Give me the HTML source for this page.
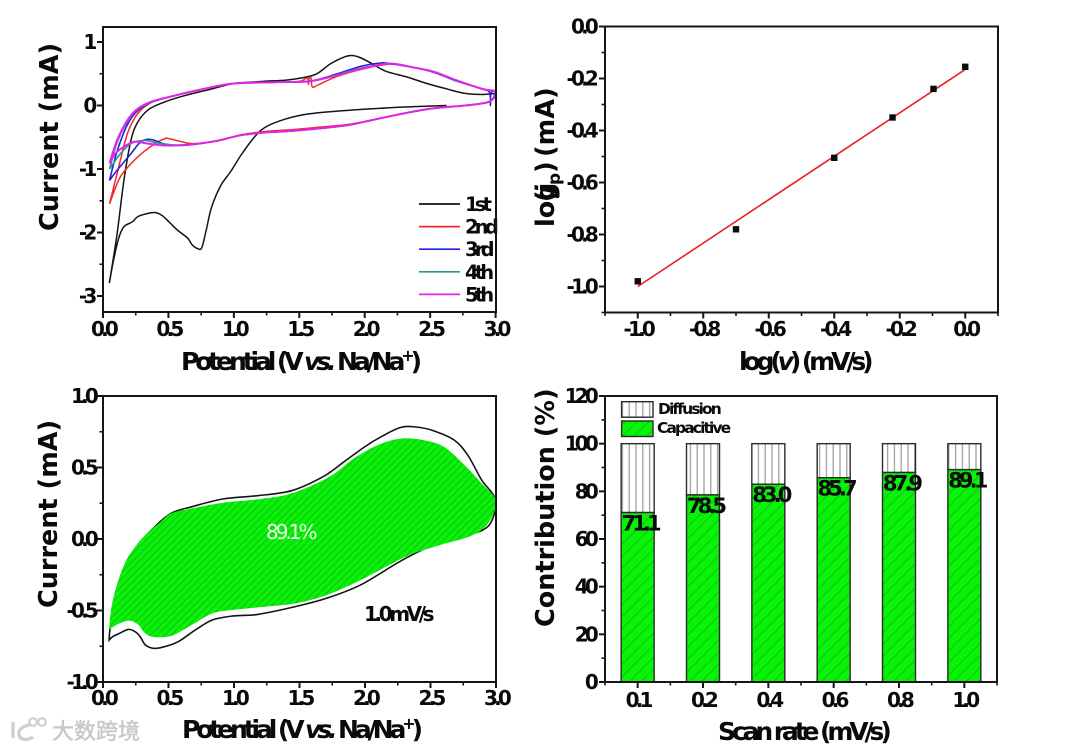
<!DOCTYPE html>
<html lang="en">
<head>
<meta charset="utf-8">
<title>Electrochemical performance charts</title>
<style>
html,body{margin:0;padding:0;background:#fff;}
svg{display:block;filter:blur(0.35px);}
text{font-family:"DejaVu Sans","Liberation Sans","Noto Sans CJK SC",sans-serif;font-weight:bold;fill:#0a0a0a;}
.tick{font-size:20px;letter-spacing:-3.8px;}
.title{font-size:25.5px;}
.xtitle{font-size:25px;letter-spacing:-4.1px;}
.leg{font-size:19.5px;letter-spacing:-3.8px;}
</style>
</head>
<body>
<svg id="figure" xmlns="http://www.w3.org/2000/svg" width="1080" height="751" viewBox="0 0 1080 751">
<defs>
<pattern id="hatchFine" patternUnits="userSpaceOnUse" width="5" height="5" patternTransform="rotate(45)">
<rect width="5" height="5" fill="#06f406"/><rect width="0.7" height="5" fill="#2a9a2a"/>
</pattern>
<pattern id="hatchBar" patternUnits="userSpaceOnUse" width="8.5" height="8.5" patternTransform="rotate(45)">
<rect width="8.5" height="8.5" fill="#06f406"/><rect width="0.7" height="8.5" fill="#2a9a2a"/>
</pattern>
<pattern id="hatchVert" patternUnits="userSpaceOnUse" width="6.8" height="7">
<rect width="6.8" height="7" fill="#fff"/><rect x="3" width="1.2" height="7" fill="#9a9a9a"/>
</pattern>
</defs>

<text class="title" transform="translate(58,231) rotate(-90)">Current (mA)</text>
<text class="xtitle" x="181" y="370">Potential (V <tspan font-style="italic">vs.</tspan> Na/Na<tspan font-size="16" dy="-9">+</tspan><tspan dy="9">)</tspan></text>

<text class="title" transform="translate(554,227) rotate(-90)"><tspan x="0">lo</tspan><tspan x="26">g</tspan><tspan x="25">(</tspan><tspan x="33" font-style="italic">j</tspan><tspan x="42" dy="6" font-size="17">p</tspan><tspan x="54" dy="-6">)</tspan><tspan x="70">(mA)</tspan></text>
<text class="xtitle" x="739" y="370">log(<tspan font-style="italic">v</tspan>) (mV/s)</text>

<text class="title" transform="translate(57,608) rotate(-90)">Current (mA)</text>
<text class="xtitle" x="182" y="738">Potential (V <tspan font-style="italic">vs.</tspan> Na/Na<tspan font-size="16" dy="-9">+</tspan><tspan dy="9">)</tspan></text>

<text class="title" transform="translate(554,627) rotate(-90)">Contribution (%)</text>
<text class="xtitle" x="718" y="740">Scan rate (mV/s)</text>

<g>
<path d="M13 722v16M30 725c-8 1-12 5-11 10 1 5 8 6 14 2" fill="none" stroke="#cfcfcf" stroke-width="3.4"/>
<circle cx="33" cy="722" r="3.8" fill="none" stroke="#cfcfcf" stroke-width="2.2"/>
<circle cx="42" cy="722" r="3.8" fill="none" stroke="#cfcfcf" stroke-width="2.2"/>
<text x="52" y="739" style="font-size:22px;font-weight:normal;fill:#c8c8c8;stroke:#c8c8c8;stroke-width:0.5px;font-family:'Noto Sans CJK SC',sans-serif;">大数跨境</text>
</g>

<g id="layer"></g>
</svg>

<script>
// ---- Panel A: CV cycles ----
const aXTicks = [0, 0.5, 1.0, 1.5, 2.0, 2.5, 3.0];
const aXLabels = ['0.0', '0.5', '1.0', '1.5', '2.0', '2.5', '3.0'];
const aXMinor = [0.25, 0.75, 1.25, 1.75, 2.25, 2.75];
const aYTicks = [1, 0, -1, -2, -3];
const aYLabels = ['1', '0', '-1', '-2', '-3'];
const aYMinor = [0.5, -0.5, -1.5, -2.5];
const cycleNames = ['1st', '2nd', '3rd', '4th', '5th'];

const cycle1V = [2.626,2.24,1.845,1.58,1.4,1.25,1.16,1.055,0.976,0.9,0.83,0.79,0.755,0.72,0.68,0.647,0.568,0.503,0.45,0.397,0.345,0.266,0.226,0.16,0.12,0.08,0.05,0.108,0.16,0.213,0.266,0.345,0.45,0.608,0.79,1.0,1.21,1.4,1.53,1.634,1.74,1.845,1.9,1.963,2.055,2.16,2.32,2.476,2.634,2.766,2.9,3.0];
const cycle1I = [0,-0.03,-0.08,-0.13,-0.21,-0.33,-0.49,-0.78,-1.04,-1.26,-1.6,-1.95,-2.24,-2.25,-2.19,-2.09,-1.96,-1.83,-1.73,-1.685,-1.7,-1.75,-1.83,-1.91,-2.09,-2.44,-2.78,-2.02,-1.18,-0.55,-0.26,-0.07,0.04,0.147,0.24,0.346,0.378,0.4,0.44,0.5,0.66,0.766,0.787,0.756,0.66,0.54,0.45,0.346,0.257,0.19,0.173,0.19];

const cycle2V = [0.05,0.12,0.187,0.266,0.37,0.53,0.79,1.0,1.32,1.5,1.56,1.57,1.575,1.59,1.6,1.65,1.79,1.976,2.187,2.37,2.53,2.71,2.9,3.0,2.95,2.766,2.5,2.24,2.055,1.87,1.66,1.45,1.24,1.055,0.87,0.687,0.6,0.5,0.476,0.397,0.266,0.134,0.05];
const cycle2I = [-1.55,-0.97,-0.44,-0.126,0.05,0.147,0.27,0.35,0.367,0.38,0.43,0.33,0.43,0.43,0.29,0.33,0.46,0.57,0.65,0.6,0.53,0.39,0.26,0.215,0.06,0,-0.05,-0.15,-0.23,-0.3,-0.34,-0.38,-0.41,-0.46,-0.56,-0.6,-0.57,-0.52,-0.52,-0.6,-0.81,-1.12,-1.55];

const cycle3V = [0.05,0.108,0.187,0.266,0.37,0.53,0.79,1.0,1.32,1.58,1.79,1.976,2.12,2.187,2.37,2.53,2.71,2.9,2.955,2.96,2.965,3.0,2.95,2.766,2.5,2.24,2.055,1.87,1.66,1.45,1.24,1.055,0.87,0.634,0.476,0.37,0.29,0.213,0.108,0.05];
const cycle3I = [-1.18,-0.72,-0.3,-0.08,0.05,0.147,0.27,0.346,0.367,0.383,0.5,0.62,0.67,0.66,0.6,0.52,0.38,0.26,0.2,0,0.2,0.215,0.06,0,-0.05,-0.15,-0.23,-0.31,-0.36,-0.4,-0.425,-0.467,-0.556,-0.625,-0.61,-0.535,-0.57,-0.76,-1.02,-1.18];

const cycle4V = [0.05,0.108,0.187,0.266,0.37,0.53,0.79,1.0,1.32,1.58,1.79,1.976,2.187,2.37,2.53,2.71,2.9,3.0,2.95,2.766,2.5,2.24,2.055,1.87,1.66,1.45,1.24,1.055,0.87,0.687,0.555,0.42,0.318,0.213,0.134,0.05];
const cycle4I = [-1.0,-0.58,-0.25,-0.06,0.055,0.147,0.27,0.346,0.367,0.383,0.485,0.59,0.66,0.6,0.525,0.385,0.26,0.215,0.06,0,-0.05,-0.15,-0.23,-0.31,-0.36,-0.4,-0.425,-0.467,-0.556,-0.61,-0.625,-0.59,-0.55,-0.6,-0.756,-1.0];

const cycle5V = [0.05,0.108,0.187,0.266,0.37,0.53,0.79,1.0,1.32,1.58,1.79,1.976,2.187,2.37,2.53,2.71,2.9,3.0,2.95,2.766,2.5,2.24,2.055,1.87,1.66,1.45,1.24,1.055,0.87,0.687,0.476,0.345,0.24,0.16,0.095,0.05];
const cycle5I = [-0.91,-0.55,-0.23,-0.05,0.06,0.147,0.27,0.346,0.367,0.383,0.478,0.58,0.66,0.6,0.53,0.39,0.26,0.215,0.06,0,-0.05,-0.15,-0.23,-0.31,-0.36,-0.4,-0.425,-0.467,-0.556,-0.61,-0.63,-0.6,-0.57,-0.65,-0.756,-0.91];

// ---- Panel B: log-log fit ----
const bXTicks = [-1.0, -0.8, -0.6, -0.4, -0.2, 0.0];
const bXLabels = ['-1.0', '-0.8', '-0.6', '-0.4', '-0.2', '0.0'];
const bXMinor = [-1.1, -0.9, -0.7, -0.5, -0.3, -0.1, 0.1];
const bYTicks = [0.0, -0.2, -0.4, -0.6, -0.8, -1.0];
const bYLabels = ['0.0', '-0.2', '-0.4', '-0.6', '-0.8', '-1.0'];
const bYMinor = [-0.1, -0.3, -0.5, -0.7, -0.9, -1.1];
const logRate = [-1.0, -0.7, -0.4, -0.222, -0.097, 0.0];
const logPeak = [-0.98, -0.78, -0.505, -0.35, -0.24, -0.155];
const fitRate = [-1.0, 0.0];
const fitPeak = [-1.0, -0.165];

// ---- Panel C: capacitive fraction at 1.0 mV/s ----
const cXTicks = [0, 0.5, 1.0, 1.5, 2.0, 2.5, 3.0];
const cXLabels = ['0.0', '0.5', '1.0', '1.5', '2.0', '2.5', '3.0'];
const cXMinor = [0.25, 0.75, 1.25, 1.75, 2.25, 2.75];
const cYTicks = [1, 0.5, 0, -0.5, -1];
const cYLabels = ['1.0', '0.5', '0.0', '-0.5', '-1.0'];
const cYMinor = [0.75, 0.25, -0.25, -0.75];
const totalV = [0.047,0.053,0.087,0.153,0.258,0.39,0.52,0.68,0.916,1.18,1.44,1.68,1.84,2.0,2.126,2.27,2.39,2.52,2.68,2.784,2.89,2.995,2.95,2.8,2.626,2.31,1.968,1.705,1.468,1.18,0.995,0.837,0.705,0.574,0.468,0.39,0.324,0.284,0.245,0.192,0.126,0.074,0.047];
const totalI = [-0.706,-0.636,-0.427,-0.217,-0.05,0.08,0.18,0.226,0.28,0.303,0.338,0.436,0.54,0.646,0.716,0.78,0.783,0.758,0.692,0.587,0.413,0.273,0.1,0.03,-0.002,-0.135,-0.32,-0.415,-0.473,-0.527,-0.538,-0.566,-0.636,-0.718,-0.753,-0.765,-0.741,-0.683,-0.648,-0.632,-0.66,-0.683,-0.706];
const capV = [0.047,0.053,0.07,0.1,0.14,0.192,0.31,0.442,0.52,0.68,0.916,1.18,1.44,1.73,1.916,2.1,2.27,2.44,2.6,2.76,2.89,3.0,2.97,2.89,2.76,2.574,2.31,1.968,1.705,1.468,1.18,0.995,0.837,0.68,0.52,0.376,0.31,0.27,0.205,0.126,0.047];
const capI = [-0.632,-0.56,-0.45,-0.34,-0.235,-0.124,0.016,0.121,0.18,0.214,0.254,0.277,0.319,0.436,0.564,0.657,0.702,0.692,0.646,0.517,0.389,0.273,0.156,0.063,0.005,-0.042,-0.124,-0.287,-0.392,-0.45,-0.478,-0.496,-0.52,-0.6,-0.678,-0.683,-0.648,-0.6,-0.571,-0.59,-0.632];

// ---- Panel D: contribution bars ----
const scanRates = ['0.1', '0.2', '0.4', '0.6', '0.8', '1.0'];
const capacitive = [71.1, 78.5, 83.0, 85.7, 87.9, 89.1];
const capacitiveLabels = ['71.1', '78.5', '83.0', '85.7', '87.9', '89.1'];
const diffusionTotal = [100, 100, 100, 100, 100, 100];
const dYTicks = [0, 20, 40, 60, 80, 100, 120];
const dYLabels = ['0', '20', '40', '60', '80', '100', '120'];
const dYMinor = [10, 30, 50, 70, 90, 110];

const NS = 'http://www.w3.org/2000/svg';
const layer = document.getElementById('layer');

function linear(d0, d1, r0, r1) { return v => r0 + (v - d0) * (r1 - r0) / (d1 - d0); }

function mk(tag, name, props, parent) {
  const el = document.createElementNS(NS, tag);
  
  
  for (const k in props) el.setAttribute(k, props[k]);
  (parent || layer).appendChild(el);
  return el;
}

function smoothPath(xs, ys, sx, sy, close) {
  const p = xs.map((x, i) => [sx(x), sy(ys[i])]);
  let d = 'M' + p[0][0].toFixed(1) + ' ' + p[0][1].toFixed(1);
  for (let i = 0; i < p.length - 1; i++) {
    const a = p[Math.max(0, i - 1)], b = p[i], c = p[i + 1], e = p[Math.min(p.length - 1, i + 2)];
    const c1x = b[0] + (c[0] - a[0]) / 6, c1y = b[1] + (c[1] - a[1]) / 6;
    const c2x = c[0] - (e[0] - b[0]) / 6, c2y = c[1] - (e[1] - b[1]) / 6;
    d += 'C' + [c1x, c1y, c2x, c2y, c[0], c[1]].map(n => n.toFixed(1)).join(' ');
  }
  return d + (close ? 'Z' : '');
}

function frame(name, box) {
  mk('rect', name + '-plot-frame', { x: box.l, y: box.t, width: box.r - box.l, height: box.b - box.t, fill: 'none', stroke: '#151515', 'stroke-width': 2 });
}

function xTicks(name, box, sx, vals, labels, minor, baseline) {
  vals.forEach((v, i) => {
    mk('line', name + '-x-tick', { x1: sx(v), x2: sx(v), y1: box.b, y2: box.b + 6, stroke: '#151515', 'stroke-width': 2 });
    const t = mk('text', name + '-x-tick-label', { x: sx(v), y: baseline, 'text-anchor': 'middle', class: 'tick' });
    t.textContent = labels[i];
  });
  minor.forEach(v => {
    mk('line', name + '-x-minor-tick', { x1: sx(v), x2: sx(v), y1: box.b, y2: box.b + 3.5, stroke: '#151515', 'stroke-width': 1.6 });
  });
}

function yTicks(name, box, sy, vals, labels, minor, rightEdge) {
  vals.forEach((v, i) => {
    mk('line', name + '-y-tick', { x1: box.l - 6, x2: box.l, y1: sy(v), y2: sy(v), stroke: '#151515', 'stroke-width': 2 });
    const t = mk('text', name + '-y-tick-label', { x: rightEdge, y: sy(v) + 7, 'text-anchor': 'end', class: 'tick' });
    t.textContent = labels[i];
  });
  minor.forEach(v => {
    mk('line', name + '-y-minor-tick', { x1: box.l - 3.5, x2: box.l, y1: sy(v), y2: sy(v), stroke: '#151515', 'stroke-width': 1.6 });
  });
}

// Panel A
const boxA = { l: 103, r: 496, t: 27, b: 312 };
const ax = linear(0, 3, 103, 495.6);
const ay = linear(0, 1, 105.5, 42);
const cycleV = [cycle1V, cycle2V, cycle3V, cycle4V, cycle5V];
const cycleI = [cycle1I, cycle2I, cycle3I, cycle4I, cycle5I];
const cycleColors = ['#141414', '#f02a2a', '#2222dd', '#2a9490', '#e024e8'];
const cycleWidths = [1.5, 1.5, 1.6, 1.6, 2];
cycleV.forEach((xs, i) => {
  mk('path', 'cv-curve-' + cycleNames[i], { d: smoothPath(xs, cycleI[i], ax, ay), fill: 'none', stroke: cycleColors[i], 'stroke-width': cycleWidths[i], 'stroke-linejoin': 'round' });
  const ly = 204 + i * 22.6;
  mk('line', 'legend-line-' + cycleNames[i], { x1: 419, x2: 460, y1: ly, y2: ly, stroke: cycleColors[i], 'stroke-width': 1.7 });
  const t = mk('text', 'legend-label-' + cycleNames[i], { x: 465, y: ly + 7, class: 'leg' });
  t.textContent = cycleNames[i];
});
frame('panel-a', boxA);
xTicks('panel-a', boxA, ax, aXTicks, aXLabels, aXMinor, 336);
yTicks('panel-a', boxA, ay, aYTicks, aYLabels, aYMinor, 93.5);

// Panel B
const boxB = { l: 605, r: 998, t: 26.5, b: 312.5 };
const bx = linear(-1.1, 0.1, 605, 998);
const by = linear(0, -1.1, 26.5, 312.5);
mk('path', 'fit-line', { d: 'M' + bx(fitRate[0]) + ' ' + by(fitPeak[0]) + 'L' + bx(fitRate[1]) + ' ' + by(fitPeak[1]), stroke: '#e82020', 'stroke-width': 1.6, fill: 'none' });
logRate.forEach((v, i) => {
  mk('rect', 'data-point', { x: bx(v) - 3.2, y: by(logPeak[i]) - 3.2, width: 6.4, height: 6.4, fill: '#0a0a0a' });
});
frame('panel-b', boxB);
xTicks('panel-b', boxB, bx, bXTicks, bXLabels, bXMinor, 336);
yTicks('panel-b', boxB, by, bYTicks, bYLabels, bYMinor, 595);

// Panel C
const boxC = { l: 103, r: 496, t: 396, b: 682 };
const cx = linear(0, 3, 103, 496);
const cy = linear(-1, 1, 682, 396);
mk('path', 'total-current-curve', { d: smoothPath(totalV, totalI, cx, cy, true), fill: 'none', stroke: '#141414', 'stroke-width': 1.6 });
mk('path', 'capacitive-area', { d: smoothPath(capV, capI, cx, cy, true), fill: 'url(#hatchFine)', stroke: 'none' });
frame('panel-c', boxC);
xTicks('panel-c', boxC, cx, cXTicks, cXLabels, cXMinor, 705);
yTicks('panel-c', boxC, cy, cYTicks, cYLabels, cYMinor, 95);
const pct = mk('text', 'capacitive-percent-label', { x: 266, y: 539, style: 'font-size:20px;font-weight:normal;letter-spacing:-3px;fill:#e8ffe8;' });
pct.textContent = '89.1%';
const rate = mk('text', 'scan-rate-label', { x: 364, y: 621, style: 'font-size:20px;letter-spacing:-3.4px;' });
rate.textContent = '1.0mV/s';

// Panel D
const boxD = { l: 605, r: 997, t: 396, b: 682 };
const band = (boxD.r - boxD.l) / scanRates.length;
const dx = i => boxD.l + band * (i + 0.5);
const dy = linear(0, 120, 682, 396);
const barW = 33;
scanRates.forEach((s, i) => {
  mk('rect', 'diffusion-bar', { x: dx(i) - barW / 2, y: dy(diffusionTotal[i]), width: barW, height: dy(capacitive[i]) - dy(diffusionTotal[i]), fill: 'url(#hatchVert)', stroke: '#2a2a2a', 'stroke-width': 1.4 });
  mk('rect', 'capacitive-bar', { x: dx(i) - barW / 2, y: dy(capacitive[i]), width: barW, height: dy(0) - dy(capacitive[i]), fill: 'url(#hatchBar)', stroke: '#2a2a2a', 'stroke-width': 1.4 });
});
scanRates.forEach((s, i) => {
  const t = mk('text', 'bar-value-label', { x: dx(i) + 2, y: dy(capacitive[i]) + 18, 'text-anchor': 'middle', style: 'font-size:21px;letter-spacing:-3.9px;' });
  t.textContent = capacitiveLabels[i];
  mk('line', 'panel-d-x-tick', { x1: dx(i), x2: dx(i), y1: boxD.b, y2: boxD.b + 6, stroke: '#151515', 'stroke-width': 2 });
  mk('line', 'panel-d-x-minor-tick', { x1: dx(i) - band / 2, x2: dx(i) - band / 2, y1: boxD.b, y2: boxD.b + 3.5, stroke: '#151515', 'stroke-width': 1.6 });
  const l = mk('text', 'panel-d-x-tick-label', { x: dx(i), y: 707, 'text-anchor': 'middle', class: 'tick' });
  l.textContent = s;
});
mk('line', 'panel-d-x-minor-tick', { x1: boxD.r, x2: boxD.r, y1: boxD.b, y2: boxD.b + 3.5, stroke: '#151515', 'stroke-width': 1.6 });
frame('panel-d', boxD);
yTicks('panel-d', boxD, dy, dYTicks, dYLabels, dYMinor, 595);

mk('rect', 'legend-swatch-diffusion', { x: 621.6, y: 401.7, width: 31.4, height: 15.5, fill: 'url(#hatchVert)', stroke: '#2a2a2a', 'stroke-width': 1.4 });
mk('rect', 'legend-swatch-capacitive', { x: 621.6, y: 421, width: 31.4, height: 15.5, fill: 'url(#hatchBar)', stroke: '#2a2a2a', 'stroke-width': 1.4 });
const ld = mk('text', 'legend-label-diffusion', { x: 658, y: 414, style: 'font-size:15.5px;letter-spacing:-1.9px;' });
ld.textContent = 'Diffusion';
const lc = mk('text', 'legend-label-capacitive', { x: 657, y: 433, style: 'font-size:15.5px;letter-spacing:-1.9px;' });
lc.textContent = 'Capacitive';
</script>
</body>
</html>
